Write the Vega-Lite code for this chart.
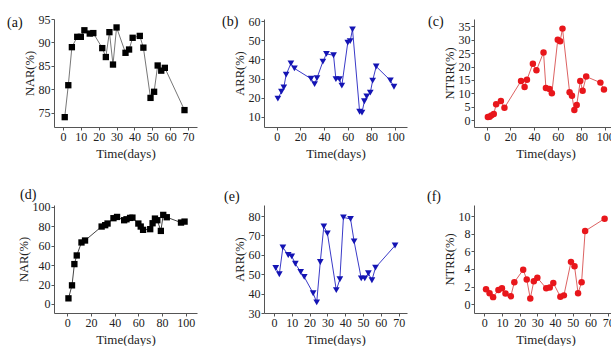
{
  "$schema": "https://vega.github.io/schema/vega-lite/v6.json",
  "padding": {"left": 7, "top": 13, "right": 0, "bottom": 0},
  "background": "white",
  "datasets": {
    "a": [
      {"day": 1, "value": 74.1}, {"day": 3, "value": 80.9}, {"day": 5, "value": 89.0}, {"day": 8, "value": 91.2},
      {"day": 10, "value": 91.2}, {"day": 12, "value": 92.6}, {"day": 15, "value": 91.9}, {"day": 17, "value": 92.0},
      {"day": 22, "value": 88.8}, {"day": 24, "value": 86.9}, {"day": 26, "value": 92.2}, {"day": 28, "value": 85.3},
      {"day": 30, "value": 93.2}, {"day": 35, "value": 87.8}, {"day": 37, "value": 88.5}, {"day": 39, "value": 91.0},
      {"day": 43, "value": 91.4}, {"day": 45, "value": 88.9}, {"day": 49, "value": 78.2}, {"day": 51, "value": 79.5},
      {"day": 53, "value": 85.1}, {"day": 55, "value": 84.0}, {"day": 57, "value": 84.6}, {"day": 68, "value": 75.6}
    ],
    "b": [
      {"day": 1, "value": 19.5}, {"day": 4, "value": 23.1}, {"day": 6, "value": 25.4}, {"day": 8, "value": 32.0},
      {"day": 12, "value": 37.9}, {"day": 15, "value": 35.3}, {"day": 29, "value": 29.9}, {"day": 32, "value": 27.1},
      {"day": 34, "value": 30.2}, {"day": 39, "value": 38.9}, {"day": 42, "value": 42.9}, {"day": 48, "value": 42.2},
      {"day": 50, "value": 29.7}, {"day": 53, "value": 29.7}, {"day": 55, "value": 26.3}, {"day": 60, "value": 48.8},
      {"day": 62, "value": 49.6}, {"day": 64, "value": 55.8}, {"day": 70, "value": 12.6}, {"day": 72, "value": 12.1},
      {"day": 74, "value": 18.1}, {"day": 76, "value": 20.6}, {"day": 79, "value": 22.6}, {"day": 81, "value": 28.9},
      {"day": 84, "value": 36.3}, {"day": 96, "value": 29.0}, {"day": 99, "value": 25.7}
    ],
    "c": [
      {"day": 1, "value": 1.1}, {"day": 2.5, "value": 1.25}, {"day": 4, "value": 1.75}, {"day": 6, "value": 2.25},
      {"day": 8, "value": 5.9}, {"day": 12, "value": 7.1}, {"day": 15, "value": 4.6}, {"day": 29, "value": 14.6},
      {"day": 32, "value": 12.4}, {"day": 34, "value": 15.1}, {"day": 39, "value": 21.1}, {"day": 42, "value": 18.6},
      {"day": 48, "value": 25.3}, {"day": 50, "value": 12.0}, {"day": 53, "value": 11.6}, {"day": 55, "value": 10.0},
      {"day": 60, "value": 30.0}, {"day": 62, "value": 29.5}, {"day": 64, "value": 34.2}, {"day": 70, "value": 10.4},
      {"day": 72, "value": 9.1}, {"day": 74, "value": 3.75}, {"day": 76, "value": 5.6}, {"day": 79, "value": 14.6},
      {"day": 81, "value": 11.0}, {"day": 84, "value": 16.25}, {"day": 96, "value": 14.0}, {"day": 99, "value": 11.4}
    ],
    "d": [
      {"day": 1, "value": 5.8}, {"day": 4, "value": 19.2}, {"day": 6, "value": 41.1}, {"day": 8, "value": 50.0},
      {"day": 12, "value": 63.4}, {"day": 15, "value": 65.4}, {"day": 29, "value": 79.8}, {"day": 32, "value": 81.2},
      {"day": 34, "value": 82.9}, {"day": 39, "value": 88.4}, {"day": 42, "value": 89.7}, {"day": 48, "value": 86.3},
      {"day": 50, "value": 87.3}, {"day": 53, "value": 88.7}, {"day": 55, "value": 89.0}, {"day": 60, "value": 82.9},
      {"day": 62, "value": 79.8}, {"day": 64, "value": 76.4}, {"day": 70, "value": 77.1}, {"day": 72, "value": 83.2},
      {"day": 74, "value": 88.0}, {"day": 76, "value": 86.3}, {"day": 79, "value": 75.3}, {"day": 81, "value": 91.8},
      {"day": 84, "value": 89.4}, {"day": 96, "value": 83.9}, {"day": 99, "value": 84.9}
    ],
    "e": [
      {"day": 1, "value": 53.2}, {"day": 3, "value": 50.0}, {"day": 5, "value": 63.8}, {"day": 8, "value": 59.9},
      {"day": 10, "value": 59.2}, {"day": 12, "value": 55.4}, {"day": 15, "value": 51.2}, {"day": 17, "value": 48.6},
      {"day": 22, "value": 40.2}, {"day": 24, "value": 35.5}, {"day": 26, "value": 56.3}, {"day": 28, "value": 74.7},
      {"day": 30, "value": 71.1}, {"day": 35, "value": 41.8}, {"day": 37, "value": 47.4}, {"day": 39, "value": 79.3},
      {"day": 43, "value": 78.5}, {"day": 45, "value": 66.9}, {"day": 49, "value": 47.9}, {"day": 51, "value": 47.9},
      {"day": 53, "value": 50.5}, {"day": 55, "value": 46.9}, {"day": 57, "value": 53.4}, {"day": 68, "value": 64.8}
    ],
    "f": [
      {"day": 1, "value": 1.7}, {"day": 3, "value": 1.25}, {"day": 5, "value": 0.8}, {"day": 8, "value": 1.6},
      {"day": 10, "value": 1.8}, {"day": 12, "value": 1.2}, {"day": 15, "value": 0.9}, {"day": 17, "value": 2.5},
      {"day": 22, "value": 3.9}, {"day": 24, "value": 2.8}, {"day": 26, "value": 0.65}, {"day": 28, "value": 2.6},
      {"day": 30, "value": 3.0}, {"day": 35, "value": 1.8}, {"day": 37, "value": 1.9}, {"day": 39, "value": 2.4},
      {"day": 43, "value": 0.85}, {"day": 45, "value": 1.0}, {"day": 49, "value": 4.8}, {"day": 51, "value": 4.3},
      {"day": 53, "value": 1.25}, {"day": 55, "value": 2.5}, {"day": 57, "value": 8.3}, {"day": 68, "value": 9.7}
    ]
  },
  "columns": 3,
  "bounds": "flush",
  "spacing": {"row": 78, "column": 67},
  "concat": [
    {
      "width": 143, "height": 108,
      "data": {"name": "a"},
      "title": {"text": "(a)", "dx": -47, "dy": 21},
      "encoding": {
        "x": {"field": "day", "type": "quantitative", "scale": {"domain": [-5, 75], "nice": false, "zero": false}, "axis": {"values": [0, 10, 20, 30, 40, 50, 60, 70], "title": "Time(days)"}},
        "y": {"field": "value", "type": "quantitative", "scale": {"domain": [72, 95], "nice": false, "zero": false}, "axis": {"values": [75, 80, 85, 90, 95], "title": "NAR(%)"}}
      },
      "layer": [
        {"mark": {"type": "line", "color": "#777777", "strokeWidth": 1}},
        {"mark": {"type": "square", "color": "#000000", "size": 40, "opacity": 1}}
      ]
    },
    {
      "width": 143, "height": 108,
      "data": {"name": "b"},
      "title": {"text": "(b)", "dx": -42, "dy": 17.5},
      "encoding": {
        "x": {"field": "day", "type": "quantitative", "scale": {"domain": [-10.7, 110], "nice": false, "zero": false}, "axis": {"values": [0, 20, 40, 60, 80, 100], "title": "Time(days)"}},
        "y": {"field": "value", "type": "quantitative", "scale": {"domain": [4.6, 61.2], "nice": false, "zero": false}, "axis": {"values": [10, 20, 30, 40, 50, 60], "title": "ARR(%)"}}
      },
      "layer": [
        {"mark": {"type": "line", "color": "#3a3ac8", "strokeWidth": 1}},
        {"mark": {"type": "point", "shape": "triangle-down", "filled": true, "color": "#1414b4", "size": 45, "opacity": 1}}
      ]
    },
    {
      "width": 143, "height": 108,
      "data": {"name": "c"},
      "title": {"text": "(c)", "dx": -46, "dy": 14},
      "encoding": {
        "x": {"field": "day", "type": "quantitative", "scale": {"domain": [-10.7, 110], "nice": false, "zero": false}, "axis": {"values": [0, 20, 40, 60, 80, 100], "title": "Time(days)"}},
        "y": {"field": "value", "type": "quantitative", "scale": {"domain": [-2.6, 37.8], "nice": false, "zero": false}, "axis": {"values": [0, 5, 10, 15, 20, 25, 30, 35], "title": "NTRR(%)"}}
      },
      "layer": [
        {"mark": {"type": "line", "color": "#d85050", "strokeWidth": 0.9}},
        {"mark": {"type": "circle", "color": "#e8161b", "size": 42, "opacity": 1}}
      ]
    },
    {
      "width": 143, "height": 108,
      "data": {"name": "d"},
      "title": {"text": "(d)", "dx": -34, "dy": 5},
      "encoding": {
        "x": {"field": "day", "type": "quantitative", "scale": {"domain": [-11.2, 109.5], "nice": false, "zero": false}, "axis": {"values": [0, 20, 40, 60, 80, 100], "title": "Time(days)"}},
        "y": {"field": "value", "type": "quantitative", "scale": {"domain": [-9.3, 102], "nice": false, "zero": false}, "axis": {"values": [0, 20, 40, 60, 80, 100], "title": "NAR(%)"}}
      },
      "layer": [
        {"mark": {"type": "line", "color": "#444444", "strokeWidth": 1}},
        {"mark": {"type": "square", "color": "#000000", "size": 40, "opacity": 1}}
      ]
    },
    {
      "width": 143, "height": 108,
      "data": {"name": "e"},
      "title": {"text": "(e)", "dx": -40, "dy": 3},
      "encoding": {
        "x": {"field": "day", "type": "quantitative", "scale": {"domain": [-5.6, 74.7], "nice": false, "zero": false}, "axis": {"values": [0, 10, 20, 30, 40, 50, 60, 70], "title": "Time(days)"}},
        "y": {"field": "value", "type": "quantitative", "scale": {"domain": [30, 85.7], "nice": false, "zero": false}, "axis": {"values": [30, 40, 50, 60, 70, 80], "title": "ARR(%)"}}
      },
      "layer": [
        {"mark": {"type": "line", "color": "#3a3ac8", "strokeWidth": 1}},
        {"mark": {"type": "point", "shape": "triangle-down", "filled": true, "color": "#1414b4", "size": 45, "opacity": 1}}
      ]
    },
    {
      "width": 143, "height": 108,
      "data": {"name": "f"},
      "title": {"text": "(f)", "dx": -47, "dy": 3},
      "encoding": {
        "x": {"field": "day", "type": "quantitative", "scale": {"domain": [-5.8, 75], "nice": false, "zero": false}, "axis": {"values": [0, 10, 20, 30, 40, 50, 60, 70], "title": "Time(days)"}},
        "y": {"field": "value", "type": "quantitative", "scale": {"domain": [-1.0, 11.25], "nice": false, "zero": false}, "axis": {"values": [0, 2, 4, 6, 8, 10], "title": "NTRR(%)"}}
      },
      "layer": [
        {"mark": {"type": "line", "color": "#d85050", "strokeWidth": 0.9}},
        {"mark": {"type": "circle", "color": "#e8161b", "size": 42, "opacity": 1}}
      ]
    }
  ],
  "config": {
    "font": "Liberation Serif",
    "view": {"stroke": null},
    "title": {"anchor": "start", "frame": "group", "font": "Liberation Serif", "fontSize": 14, "fontWeight": "normal", "offset": 0, "baseline": "alphabetic", "color": "#111111"},
    "axis": {
      "grid": false,
      "labelFont": "Liberation Serif", "labelFontSize": 12, "labelColor": "#222222",
      "titleFont": "Liberation Serif", "titleFontWeight": "normal", "titleColor": "#222222",
      "domainColor": "#555555", "tickColor": "#555555", "tickSize": 3, "labelPadding": 1,
      "labelFlush": false, "labelOverlap": false, "labelBound": false
    },
    "axisX": {"titleFontSize": 13, "titlePadding": 5},
    "axisY": {"titleFontSize": 12.5, "titlePadding": 2}
  }
}
